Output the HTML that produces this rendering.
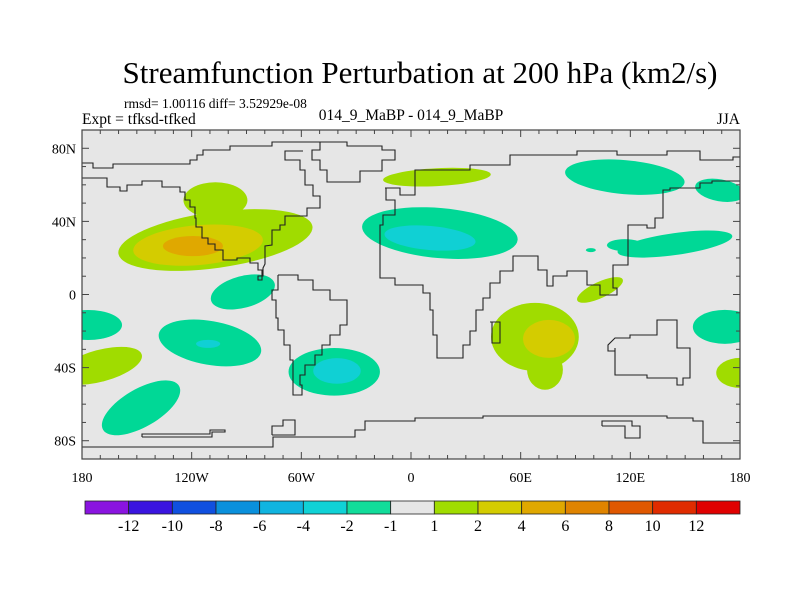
<!DOCTYPE html>
<html><head><meta charset="utf-8"><style>
body{margin:0;background:#fff;}
svg{display:block;font-family:"Liberation Serif",serif;}
</style></head><body>
<svg id="chart" width="800" height="600" viewBox="0 0 800 600">
<text x="420" y="83" font-size="31" text-anchor="middle">Streamfunction Perturbation at 200 hPa (km2/s)</text>
<text x="124" y="108" font-size="13.5">rmsd= 1.00116 diff= 3.52929e-08</text>
<text x="82" y="124" font-size="15.5">Expt = tfksd-tfked</text>
<text x="411" y="120" font-size="15.5" text-anchor="middle">014_9_MaBP - 014_9_MaBP</text>
<text x="740" y="124" font-size="15.5" text-anchor="end">JJA</text>
<defs><clipPath id="pc"><rect x="82" y="130" width="658" height="329"/></clipPath></defs>
<rect x="82" y="130" width="658" height="329" fill="#e6e6e6"/>
<g id="fills" clip-path="url(#pc)"></g>
<g id="coast" clip-path="url(#pc)" fill="none" stroke="#222" stroke-width="1.1"></g>
<g id="axes"></g>
<g id="cbar"></g>
</svg>
<script>
// contour blobs: centre lon/lat, radii in degrees, rotation, level
const blobLon = [-107,-107,-116.5,-119.3,-92,-176.7,-110,-111,-170,-147.7,-42,-40.5,14.2,15.8,10.4,117,169,144.4,117,98.4,67.8,103.4,73.3,75.5,171.7,180];
const blobLat = [29.8,51.6,27,26.5,1.4,-16.7,-26.5,-27,-39,-62,-42.3,-41.8,64.2,33.6,30.9,64.2,57,27.6,27,24.3,-23.2,2.5,-41.2,-24.3,-17.7,-42.9];
const blobRx = [53.6,17.5,35.6,16.4,18,18.6,28.4,6.6,23.5,24,25,13,29.5,42.7,25,32.8,13.7,31.7,9.8,2.7,24,13.7,9.8,14.2,17.5,13];
const blobRy = [15.3,9.8,10.9,5.5,8.7,8.2,12,2.2,8.7,10.4,13,7,4.9,13.7,6.6,9.3,6,6,3.3,1.1,18.6,4.4,10.9,10.4,9.3,8.2];
const blobRot = [-8,0,-5,0,-15,0,10,0,-15,-30,0,0,-3,5,5,5,10,-8,0,0,0,-25,0,0,0,0];
const blobLevel = [1,1,2,3,-1,-1,-1,-2,1,-1,-1,-2,1,-1,-2,-1,-1,-1,-1,-1,1,1,1,2,-1,1];
const cbLabels = ["-12","-10","-8","-6","-4","-2","-1","1","2","4","6","8","10","12"];
const cbColors = ["#8a14e0","#3a14e0","#1050e0","#0a90dc","#10b4e0","#10d2d6","#12dc9a","#e6e6e6","#a0dc00","#d4cc00","#e0a800","#e08400","#e05800","#e02c00","#e00000"];
const lonTicks = [-180,-120,-60,0,60,120,180];
const lonTickLabels = ["180","120W","60W","0","60E","120E","180"];
const latTicks = [80,40,0,-40,-80];
const latTickLabels = ["80N","40N","0","40S","80S"];

const X0=82,X1=740,Y0=130,Y1=459;
const xs = lon => X0+(lon+180)/360*(X1-X0);
const ys = lat => Y0+(90-lat)/180*(Y1-Y0);
const NS="http://www.w3.org/2000/svg";
function mk(t,a,p){const e=document.createElementNS(NS,t);for(const k in a)e.setAttribute(k,a[k]);p.appendChild(e);return e;}
const lvlColor={"1":"#a0dc00","2":"#d4cc00","3":"#e0a800","-1":"#00d896","-2":"#10d0d4"};
const fills=document.getElementById('fills');
const order=blobLon.map((_,i)=>i).sort((a,b)=>Math.abs(blobLevel[a])-Math.abs(blobLevel[b]));
order.forEach(i=>{
  const cx=xs(blobLon[i]),cy=ys(blobLat[i]);
  const e=mk('ellipse',{cx:cx,cy:cy,rx:blobRx[i]*(X1-X0)/360,ry:blobRy[i]*(Y1-Y0)/180,fill:lvlColor[blobLevel[i]],transform:`rotate(${blobRot[i]} ${cx} ${cy})`},fills);
  
  
});
// coastlines (approximate, pixel geometry)
const coast=document.getElementById('coast');
const lines=[
"82,163 93,163 93,168 113,168 113,164 190,164 190,160 197,160 197,155 203,155 203,150 230,150 230,146 272,146 272,142 320,142",
"82,178 107,178 107,187 120,187 120,191 127,191 127,185 142,185 142,181 162,181 162,187 180,187 180,192 185,192 185,200 190,200 190,207 195,207 195,218 196,218 196,227 202,227 202,238 208,238 208,244 215,244 215,250 223,250 223,260 237,260 237,258 250,258 250,263 258,263 258,270 262,270 262,280 258,280 258,276 263,276 263,268 265,264 265,246 272,245 272,230 280,230 280,225 285,225 285,216 307,216 307,208 320,208 320,196 313,196 313,185 305,185 305,170 300,170 300,160 285,160 285,151 303,151",
"278,275 298,275 298,280 313,280 313,290 330,290 330,300 347,300 347,325 340,325 340,335 330,335 330,345 322,345 322,355 315,355 315,365 305,365 305,375 300,375 300,385 302,385 302,395 293,395 293,360 290,360 290,345 284,345 284,330 278,330 278,318 276,318 276,300 272,300 272,290 278,290 278,275",
"320,142 347,142 347,146 382,146 382,150 395,150 395,160 382,160 382,171 360,171 360,182 327,182 327,170 320,170 320,160 312,160 312,150 320,150 320,142",
"385,188 400,188 400,195 415,195 415,170 470,170 470,165 510,165 510,155 577,155 577,151 617,151 617,155 667,155 667,151 700,151 700,160 733,160 733,157 740,157",
"386,188 386,200 395,200 395,215 383,215 383,225 380,225 380,278 395,278 395,285 423,285 423,293 430,293 430,310 433,310 433,335 437,335 437,358 443,358 443,358 463,358 463,345 470,345 470,331 476,331 476,310 483,310 483,298 490,298 490,283 500,283 500,271 513,271 513,256 538,256 538,270 547,270 547,286 553,286 553,276 567,276 567,271 587,271 587,285 600,285 600,295 617,295 617,288 613,288 613,265 628,265 628,253 628,225 647,225 647,228 655,228 655,218 663,218 663,190 670,190 670,188 700,188 700,183 712,183 712,181 740,181",
"490,322 500,322 500,343 492,343 492,322",
"615,348 615,375 647,375 647,378 677,378 677,385 683,385 683,378 690,378 690,348 677,348 677,320 657,320 657,335 630,335 630,338 615,338 608,345 608,351 615,351",
"82,447 273,447 273,437 355,437 355,430 365,430 365,421 415,421 415,418 483,418 483,416 667,416 667,418 693,418 693,421 703,421 703,443 740,443",
"142,437 212,437 212,432 225,432 225,430 210,430 210,434 142,434 142,437",
"272,435 295,435 295,420 283,420 283,426 272,426 272,435",
"602,426 625,426 625,438 640,438 640,426 632,426 632,421 602,421 602,426"
];
lines.forEach(p=>{const e=mk('polyline',{points:p},coast);

});
// axes
const ax=document.getElementById('axes');
mk('rect',{x:X0,y:Y0,width:X1-X0,height:Y1-Y0,fill:'none',stroke:'#444','stroke-width':1.2},ax);
for(let lon=-180;lon<=180;lon+=10){const x=xs(lon),L=(lon%60===0)?7:4;
 mk('line',{x1:x,y1:Y1,x2:x,y2:Y1-L,stroke:'#444'},ax);mk('line',{x1:x,y1:Y0,x2:x,y2:Y0+L,stroke:'#444'},ax);}
for(let lat=-90;lat<=90;lat+=10){const y=ys(lat),L=(lat%40===0)?7:4;
 mk('line',{x1:X0,y1:y,x2:X0+L,y2:y,stroke:'#444'},ax);mk('line',{x1:X1,y1:y,x2:X1-L,y2:y,stroke:'#444'},ax);}
lonTicks.forEach((v,i)=>{const t=mk('text',{x:xs(v),y:482,'font-size':14,'text-anchor':'middle'},ax);t.textContent=lonTickLabels[i];

});
latTicks.forEach((v,i)=>{const t=mk('text',{x:76,y:ys(v)+5,'font-size':14,'text-anchor':'end'},ax);t.textContent=latTickLabels[i];

});
// colorbar
const cb=document.getElementById('cbar');
const cbX0=85,cbW=(740-85)/cbColors.length;
cbColors.forEach((c,i)=>{const r=mk('rect',{x:cbX0+i*cbW,y:501,width:cbW,height:13,fill:c,stroke:'#222','stroke-width':0.8},cb);

});
cbLabels.forEach((l,i)=>{const t=mk('text',{x:cbX0+(i+1)*cbW,y:531,'font-size':16,'text-anchor':'middle'},cb);t.textContent=l;

});
</script>
</body></html>
